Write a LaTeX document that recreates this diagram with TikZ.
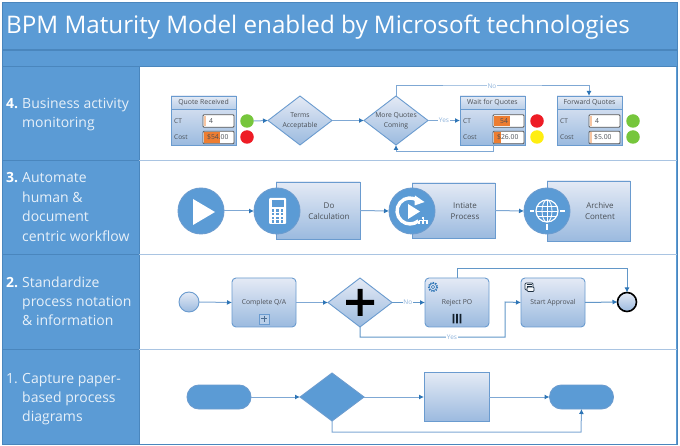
\documentclass[tikz,border=0pt]{standalone}
\usepackage{fontspec}
\setmainfont{Open Sans}
\usetikzlibrary{shapes.geometric,arrows.meta,calc}
\definecolor{bandblue}{HTML}{5B9BD5}
\definecolor{banddark}{HTML}{4A86BD}
\definecolor{edgeblue}{HTML}{6A9BCF}
\definecolor{linkblue}{HTML}{7FA8D4}
\definecolor{tipblue}{HTML}{2E75B6}
\definecolor{gradtop}{HTML}{E4EAF5}
\definecolor{gradbot}{HTML}{9BBADF}
\definecolor{inktext}{HTML}{4A4F55}
\definecolor{labelblue}{HTML}{8FB4DC}
\definecolor{panelline}{HTML}{A9C4E2}
\definecolor{lampgreen}{HTML}{76C63C}
\definecolor{lampred}{HTML}{EE1C25}
\definecolor{lampyellow}{HTML}{FFEE11}
\definecolor{barorange}{HTML}{ED7D31}
\tikzset{
  x=1pt,y=-1pt,
  gradbox/.style={draw=edgeblue,line width=0.9pt,top color=gradtop,bottom color=gradbot,inner sep=0pt,outer sep=0pt,font=\fontsize{6.8}{10}\selectfont,text=inktext,align=center},
  plainrect/.style={gradbox,rectangle,minimum width=#1},
  softrect/.style={gradbox,rectangle,rounded corners=4pt,minimum width=64pt,minimum height=49pt},
  gatebox/.style={gradbox,diamond,minimum width=64pt,minimum height=49pt,aspect=1.31},
  iconcircle/.style={circle,draw=edgeblue,line width=0.9pt,fill=bandblue,minimum size=46pt,inner sep=0pt,outer sep=0pt},
  lamp/.style={circle,fill=#1,minimum size=13.5pt,inner sep=0pt,outer sep=0pt},
  solidpill/.style={rectangle,rounded corners=12pt,draw=edgeblue,line width=0.9pt,fill=bandblue,minimum width=64pt,minimum height=24pt,inner sep=0pt,outer sep=0pt},
  link/.style={draw=linkblue,line width=1pt,-{Latex[length=5pt,width=5pt,color=tipblue]}},
  linkbold/.style={draw=tipblue!75!white,line width=1pt,-{Latex[length=5pt,width=5pt,color=tipblue]}},
  edgelabel/.style={fill=white,inner sep=0.5pt,font=\fontsize{6.5}{8}\selectfont,text=labelblue},
  rowhead/.style={anchor=base west,inner sep=0pt,text=white,font=\fontsize{14}{14}\selectfont\bfseries},
  rowtext/.style={anchor=base west,inner sep=0pt,text=white!85!bandblue,font=\fontsize{14}{14}\selectfont},
  cardfield/.style={draw=gray!70!black,line width=0.8pt,fill=white,rounded corners=1pt,minimum width=31pt,minimum height=12.5pt,inner sep=0pt,outer sep=0pt},
  cardtext/.style={font=\fontsize{6.5}{8}\selectfont,text=inktext,inner sep=0pt},
  fieldtext/.style={font=\fontsize{6.8}{8}\selectfont,text=inktext,inner sep=0pt},
  boxcaption/.style={inner sep=0pt,align=center,text=inktext,font=\fontsize{8}{11}\selectfont},
}
\newcommand{\quotecard}[4]{%
  \node[plainrect=65pt,minimum height=49pt,anchor=north west] (#1) at (#2,96) {};
  \node[plainrect=65pt,minimum height=13pt,anchor=north west,top color=gradtop,bottom color=gradbot!70!white] (#1h) at (#2,96) {\fontsize{6.9}{8}\selectfont #3};
  \node[cardtext,anchor=west] at ($(#2,121)+(3,0)$) {CT};
  \node[cardtext,anchor=west] at ($(#2,137)+(3,0)$) {Cost};
  \node[cardfield,anchor=west] (#1ct) at ($(#2,121)+(#4,0)$) {};
  \node[cardfield,anchor=west] (#1cost) at ($(#2,137.5)+(#4,0)$) {};
}
\begin{document}
\begin{tikzpicture}
\useasboundingbox (0,0) rectangle (680,446);
\fill[white] (0,0) rectangle (680,446);
% frame
\fill[bandblue] (2,2) rectangle (677,444);
\fill[white] (139,67) rectangle (676,443.5);
\draw[banddark,line width=0.8pt] (2,2) rectangle (677,444);
\draw[banddark,line width=1.2pt] (2,50) -- (677,50);
\draw[banddark,line width=1pt] (2,66.5) -- (677,66.5);
\draw[banddark,line width=0.8pt] (139,67) -- (139,444);
\foreach \yy in {160.5,254.5,349.5}{
  \draw[banddark,line width=0.8pt] (2,\yy) -- (139,\yy);
  \draw[panelline,line width=1.2pt] (139,\yy) -- (677,\yy);
}
\node[anchor=base west,inner sep=0pt,text=white,font=\fontsize{24.2}{24}\selectfont] (title) at (6,34) {BPM Maturity Model enabled by Microsoft technologies};
% row labels
\node[rowhead] (n4) at (6,109) {4.};
\node[rowtext] (t4a) at (22,109) {Business activity};
\node[rowtext] (t4b) at (22,128) {monitoring};
\node[rowhead] (n3) at (6,183) {3.};
\node[rowtext] (t3a) at (22,183) {Automate};
\node[rowtext] (t3b) at (22,203) {human \&};
\node[rowtext] (t3c) at (22,222) {document};
\node[rowtext] (t3d) at (22,242) {centric workflow};
\node[rowhead] (n2) at (6,288) {2.};
\node[rowtext] (t2a) at (22,288) {Standardize};
\node[rowtext] (t2b) at (22,307) {process notation};
\node[rowtext] (t2c) at (22,326) {\& information};
\node[rowtext] (n1) at (6,383) {1.};
\node[rowtext] (t1a) at (22,383) {Capture paper-};
\node[rowtext] (t1b) at (22,402) {based process};
\node[rowtext] (t1c) at (22,421) {diagrams};
% ---- row 4
\quotecard{qr}{171}{Quote Received}{32}
\quotecard{wq}{460}{Wait for Quotes}{33}
\quotecard{fq}{557}{Forward Quotes}{32}
\fill[barorange] ([shift={(1,1)}]qrcost.north west) rectangle ([shift={(16.5,-1)}]qrcost.south west);
\fill[barorange] ([shift={(1,1)}]wqct.north west) rectangle ([shift={(16.5,-1)}]wqct.south west);
\fill[barorange] ([shift={(1,1)}]wqcost.north west) rectangle ([shift={(8,-1)}]wqcost.south west);
\fill[barorange!45!white] ([shift={(1,1)}]qrct.north west) rectangle ([shift={(2.5,-1)}]qrct.south west);
\fill[barorange!45!white] ([shift={(1,1)}]fqct.north west) rectangle ([shift={(2.5,-1)}]fqct.south west);
\fill[barorange!45!white] ([shift={(1,1)}]fqcost.north west) rectangle ([shift={(2.5,-1)}]fqcost.south west);
\node[fieldtext,anchor=west] at ([xshift=6pt]qrct.west) {4};
\node[fieldtext,anchor=west] at ([xshift=4pt]qrcost.west) {\$54.00};
\node[fieldtext,anchor=west] at ([xshift=7pt]wqct.west) {54};
\node[fieldtext,anchor=west] at ([xshift=4pt]wqcost.west) {\$26.00};
\node[fieldtext,anchor=west] at ([xshift=6pt]fqct.west) {4};
\node[fieldtext,anchor=west] at ([xshift=5pt]fqcost.west) {\$5.00};
\node[lamp=lampgreen] (l1) at (247,121) {};
\node[lamp=lampred] (l2) at (247,137) {};
\node[lamp=lampred] (l3) at (537,121) {};
\node[lamp=lampyellow] (l4) at (537,137) {};
\node[lamp=lampgreen] (l5) at (633,121) {};
\node[lamp=lampgreen] (l6) at (633,137) {};
\node[gatebox] (terms) at (300,120.5) {Terms\\Acceptable};
\node[gatebox] (more) at (396,120.5) {More Quotes\\Coming};
\draw[link] (l1.east) -- (terms.west);
\draw[link] (terms.east) -- (more.west);
\draw[link] (more.east) -- node[edgelabel]{Yes} (more.east -| wq.west);
\draw[link] (more.north) |- (492,86) node[edgelabel]{No} -| (fq.north -| fqct.west);
\draw[link] (wqcost.south west) |- (396,152) -- (more.south);
% ---- row 3
\node[iconcircle] (play) at (201,211) {};
\node[plainrect=84pt,minimum height=57pt,anchor=west] (calc) at (276,210.5) {};
\node[boxcaption] (calct) at (329,211) {Do\\Calculation};
\node[iconcircle] (calcc) at (277,211) {};
\node[plainrect=83pt,minimum height=55pt,anchor=west] (init) at (412,210.5) {};
\node[boxcaption] (initt) at (465,211) {Intiate\\Process};
\node[iconcircle] (initc) at (412,211) {};
\node[plainrect=83pt,minimum height=60pt,anchor=west] (arch) at (547,211) {};
\node[boxcaption] (archt) at (600,211) {Archive\\Content};
\node[iconcircle] (archc) at (547,211) {};
\draw[link] (play.east) -- (calcc.west);
\draw[link] (calc.east) -- (initc.west);
\draw[link] (init.east) -- (archc.west);
% play icon
\fill[white] (193,199) -- (215,212) -- (193,225) -- cycle;
% calculator icon
\begin{scope}[shift={(277,211)}]
  \fill[white,rounded corners=1pt] (-8,-13) rectangle (9,13);
  \fill[bandblue] (-5.5,-10.5) rectangle (6.5,-4);
  \foreach \cx in {-4,0.5,5}{\foreach \cy in {-0.5,3.3,7,10.5}{
    \fill[bandblue] (\cx-1.3,\cy-1.1) rectangle (\cx+1.3,\cy+1.1);}}
\end{scope}
% process icon
\begin{scope}[shift={(412,211)}]
  \draw[white,line width=3.4pt] (6.4,-10) arc[start angle=-50,end angle=-310,radius=13];
  \fill[white] (3,-15.5) -- (12.5,-9) -- (2.5,-5.5) -- cycle;
  \fill[white] (-4,-7) -- (8,0.5) -- (-4,8) -- cycle;
  \foreach \bx in {7,11,15}{\fill[white] (\bx-1.4,10.5) rectangle (\bx+1.4,13);}
  \fill[white] (9.6,6) rectangle (12.4,8.5);
  \draw[white,line width=0.5pt] (11,8.5) -- (11,10.5) (7,10.5) -- (7,9.5) -- (15,9.5) -- (15,10.5);
\end{scope}
% globe icon
\begin{scope}[shift={(547,211)}]
  \draw[white,line width=1.2pt] (0,0) circle (11);
  \draw[white,line width=0.8pt] (0,0) ellipse (5 and 11);
  \draw[white,line width=0.8pt] (0,-11) -- (0,11) (-11,0) -- (11,0) (-9.8,-5) -- (9.8,-5) (-9.8,5) -- (9.8,5);
  \draw[white,line width=1.6pt] (-17,0) -- (-13,0) (13,0) -- (18,0) (0,13) -- (0,19);
\end{scope}
% ---- row 2
\node[circle,gradbox,minimum size=20pt] (start) at (189,302) {};
\node[softrect] (qa) at (264,302.5) {Complete Q/A};
\node[gatebox] (gate) at (360,302.5) {};
\node[softrect] (rej) at (457,302.5) {Reject PO};
\node[softrect] (appr) at (553,302.5) {Start Approval};
\node[circle,gradbox,draw=black,line width=1.6pt,minimum size=19pt] (endc) at (627,302) {};
\node[rectangle,draw=edgeblue,line width=0.6pt,fill=gradbot!70!white,minimum size=10pt,inner sep=0pt] (plusbox) at (264,319) {};
\draw[edgeblue!70!black,line width=1pt] (261,319) -- (267,319) (264,316) -- (264,322);
\fill[black] (346,300) rectangle (374,305) (357.5,289) rectangle (362.5,316);
\draw[link] (start.east) -- (qa.west);
\draw[link] (qa.east) -- (gate.west);
\draw[linkbold] (gate.east) -- node[edgelabel,pos=0.48]{No} (rej.west);
\draw[linkbold] (appr.east) -- (endc.west);
\draw[linkbold] (rej.north) |- (627,269) -- (endc.north);
\draw[linkbold] (gate.south) |- (452,337) node[edgelabel]{Yes} -| (505,302) -- (appr.west);
% marker III
\fill[black!80!bandblue] (452.5,314) rectangle (454.3,323.5) (456,314) rectangle (457.8,323.5) (459.5,314) rectangle (461.3,323.5);
% gear icon
\begin{scope}[shift={(433,287)}]
  \draw[tipblue,line width=1.1pt,dash pattern=on 1.4pt off 1.2pt] (0,0) circle (4.6);
  \draw[tipblue,line width=0.5pt] (0,0) circle (3.6);
  \draw[tipblue,line width=0.5pt] (0,0) circle (1.8);
\end{scope}
% script icon
\begin{scope}[shift={(529,287)}]
  \draw[black!70!bandblue,line width=0.7pt,fill=white!70!gradtop,rounded corners=1pt] (-4,-4) rectangle (4,3);
  \draw[black!70!bandblue,line width=0.7pt,fill=white!70!gradtop,rounded corners=1pt] (-2,0) rectangle (5,4.5);
  \draw[black!70!bandblue,line width=0.6pt] (-2.5,-2.5) -- (2.5,-2.5) (-2.5,-0.7) -- (2.5,-0.7);
\end{scope}
% ---- row 1
\node[solidpill] (pa) at (219,397) {};
\node[diamond,draw=edgeblue,line width=0.9pt,fill=bandblue,minimum width=64pt,minimum height=48pt,aspect=1.33,inner sep=0pt,outer sep=0pt] (dec) at (332,397) {};
\node[plainrect=65pt,minimum height=49pt] (box) at (456.5,397) {};
\node[solidpill] (pb) at (581.5,397) {};
\draw[link] (pa.east) -- (dec.west);
\draw[link] (dec.east) -- (box.west);
\draw[link] (box.east) -- (pb.west);
\draw[link] (dec.south) |- (581,432) -- (pb.south);
\end{tikzpicture}
\end{document}
